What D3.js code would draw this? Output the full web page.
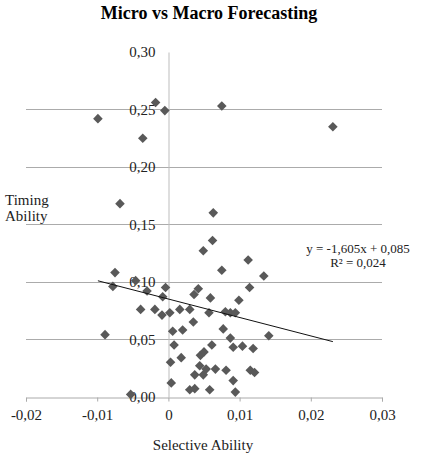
<!DOCTYPE html>
<html>
<head>
<meta charset="utf-8">
<script src="https://cdn.jsdelivr.net/npm/d3@7"></script>
<style>
  html, body { margin: 0; padding: 0; background: #fff; }
  svg text { font-family: "Liberation Serif", "Times New Roman", serif; fill: #222; }
</style>
</head>
<body>
<div id="chart"></div>
<script>
(function () {
  'use strict';

  // selective ability (x) and timing ability (y) per fund
  const selective = [
    -0.0099, -0.0068, -0.0036, -0.0018, -0.0005, 0.0075, 0.0063, 0.0231,
    -0.0075, -0.0078, -0.0089, -0.0053, -0.0046, -0.0030, -0.0039, -0.0019,
    -0.0009, -0.0004, -0.0008, 0.0002, 0.0016, 0.0030, 0.0035, 0.0006,
    0.0020, 0.0008, 0.0003, 0.0018, 0.0004, 0.0030, 0.0037, 0.0058,
    0.0036, 0.0042, 0.0049, 0.0062, 0.0059, 0.0057, 0.0061, 0.0045,
    0.0050, 0.0044, 0.0037, 0.0049, 0.0053, 0.0066, 0.0112, 0.0075,
    0.0134, 0.0114, 0.0099, 0.0080, 0.0087, 0.0094, 0.0077, 0.0087,
    0.0141, 0.0091, 0.0104, 0.0119, 0.0081, 0.0115, 0.0121, 0.0091, 0.0094
  ];
  const timing = [
    0.242, 0.168, 0.225, 0.256, 0.249, 0.253, 0.160, 0.235,
    0.108, 0.096, 0.054, 0.002, 0.101, 0.092, 0.076, 0.076,
    0.071, 0.095, 0.087, 0.073, 0.076, 0.076, 0.065, 0.057,
    0.058, 0.045, 0.030, 0.034, 0.012, 0.006, 0.007, 0.006,
    0.089, 0.094, 0.127, 0.136, 0.086, 0.073, 0.045, 0.036,
    0.039, 0.027, 0.019, 0.019, 0.024, 0.024, 0.119, 0.110,
    0.105, 0.095, 0.084, 0.074, 0.073, 0.073, 0.059, 0.051,
    0.053, 0.043, 0.044, 0.042, 0.023, 0.023, 0.021, 0.014, 0.004
  ];

  const xTicks = [-0.02, -0.01, 0, 0.01, 0.02, 0.03];
  const xTickLabels = ['-0,02', '-0,01', '0', '0,01', '0,02', '0,03'];
  const yTicks = [0, 0.05, 0.10, 0.15, 0.20, 0.25, 0.30];
  const yTickLabels = ['0,00', '0,05', '0,10', '0,15', '0,20', '0,25', '0,30'];

  const trendSlope = -1.605;
  const trendIntercept = 0.085;
  const trendLabels = ['y = -1,605x + 0,085', 'R² = 0,024'];

  const width = 423;
  const height = 457;

  const points = selective.map((x, i) => ({ x: x, y: timing[i] }));

  const xScale = d3.scaleLinear().domain([-0.02, 0.03]).range([26, 382]);
  const yScale = d3.scaleLinear().domain([0, 0.30]).range([396.7, 52]);

  const svg = d3.select('#chart')
    .append('svg')
    .attr('width', width)
    .attr('height', height);

  // title
  svg.append('text')
    .attr('x', 209)
    .attr('y', 19)
    .attr('text-anchor', 'middle')
    .style('font-size', '18px')
    .style('font-weight', 'bold')
    .style('fill', '#000')
    .text('Micro vs Macro Forecasting');

  // horizontal gridlines (none at the top value)
  svg.append('g')
    .selectAll('line')
    .data(yTicks.filter(t => t > 0 && t < 0.30))
    .enter()
    .append('line')
    .attr('x1', xScale(-0.02))
    .attr('x2', xScale(0.03))
    .attr('y1', d => Math.round(yScale(d)) + 0.5)
    .attr('y2', d => Math.round(yScale(d)) + 0.5)
    .attr('stroke', '#ababab')
    .attr('stroke-width', 1);

  // x axis at y = 0
  const xAxis = d3.axisBottom(xScale)
    .tickValues(xTicks)
    .tickSize(4)
    .tickPadding(8)
    .tickFormat((d, i) => xTickLabels[i]);

  const gx = svg.append('g')
    .attr('transform', 'translate(0,' + (Math.round(yScale(0)) + 0.5) + ')')
    .call(xAxis);
  gx.selectAll('path, line').attr('stroke', '#aaa');
  gx.selectAll('text')
    .style('font-size', '15px')
    .style('font-family', '"Liberation Serif", serif')
    .attr('fill', '#222');

  // y axis at x = 0
  const yAxis = d3.axisLeft(yScale)
    .tickValues(yTicks)
    .tickSize(0)
    .tickPadding(13)
    .tickFormat((d, i) => yTickLabels[i]);

  const gy = svg.append('g')
    .attr('transform', 'translate(' + (Math.round(xScale(0)) + 0.5) + ',0)')
    .call(yAxis);
  gy.select('path').attr('stroke', '#bdbdbd');
  gy.selectAll('text')
    .style('font-size', '15px')
    .style('font-family', '"Liberation Serif", serif')
    .attr('fill', '#222');

  // axis titles
  const yTitle = svg.append('text')
    .attr('x', 5)
    .attr('y', 205)
    .style('font-size', '15px');
  yTitle.append('tspan').attr('x', 5).text('Timing');
  yTitle.append('tspan').attr('x', 5).attr('dy', 16).text('Ability');

  svg.append('text')
    .attr('x', 203)
    .attr('y', 450)
    .attr('text-anchor', 'middle')
    .style('font-size', '15px')
    .text('Selective Ability');

  // points
  svg.append('g')
    .selectAll('path')
    .data(points)
    .enter()
    .append('path')
    .attr('d', d3.symbol().type(d3.symbolSquare).size(46))
    .attr('transform', d => 'translate(' + xScale(d.x) + ',' + yScale(d.y) + ') rotate(45)')
    .attr('fill', '#595959');

  // linear trend line over the data range
  const xExtent = d3.extent(points, d => d.x);
  svg.append('line')
    .attr('x1', xScale(xExtent[0]))
    .attr('y1', yScale(trendSlope * xExtent[0] + trendIntercept))
    .attr('x2', xScale(xExtent[1]))
    .attr('y2', yScale(trendSlope * xExtent[1] + trendIntercept))
    .attr('stroke', '#111')
    .attr('stroke-width', 1);

  svg.append('text')
    .attr('x', 358)
    .attr('y', 253)
    .attr('text-anchor', 'middle')
    .style('font-size', '13px')
    .text(trendLabels[0]);

  svg.append('text')
    .attr('x', 358)
    .attr('y', 267)
    .attr('text-anchor', 'middle')
    .style('font-size', '13px')
    .text(trendLabels[1]);
}());
</script>
</body>
</html>
